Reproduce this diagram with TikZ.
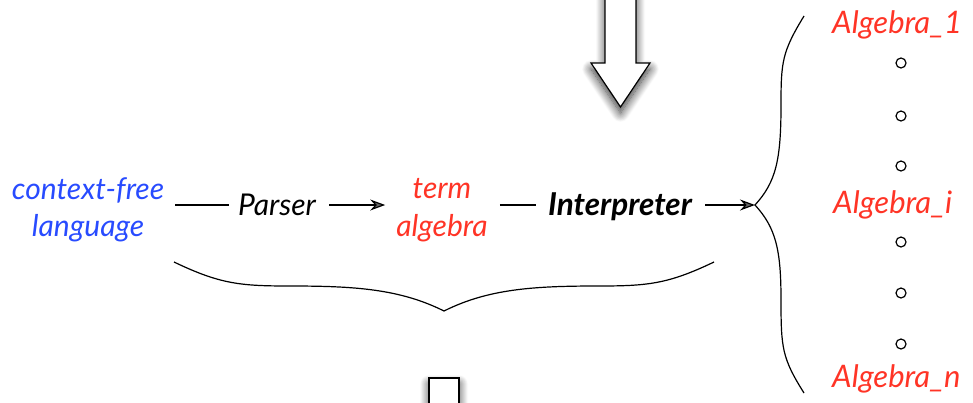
\documentclass[tikz,border=0pt]{standalone}
\usepackage{fontspec}
\setmainfont{Lato}
\usetikzlibrary{arrows.meta,shadows.blur}
\definecolor{cfblue}{RGB}{40,75,255}
\definecolor{algred}{RGB}{255,52,38}
\begin{document}
\begin{tikzpicture}[x=1pt,y=-1pt,
  txt/.style={inner sep=0pt, font=\fontsize{30}{37.5}\selectfont\itshape},
  lbl/.style={txt, text height=20pt, text depth=0pt, anchor=base},
  two/.style={txt, align=center},
  alg/.style={lbl, text=algred, anchor=base west, font=\fontsize{31}{37.5}\selectfont\itshape},
  conn/.style={line width=1.2pt},
  arr/.style={conn, -{Stealth[length=15pt,width=11pt,inset=5pt]}},
  dot/.style={circle, draw, line width=1.2pt, minimum size=10pt, inner sep=0pt},
  brace/.style={line width=1.2pt},
  bigarrow/.style={draw, fill=white, line width=1.2pt, line join=miter,
     blur shadow={shadow xshift=0pt, shadow yshift=-6pt, shadow blur radius=9pt, shadow blur steps=14, shadow opacity=80}}
]
\useasboundingbox (0,0) rectangle (973,402);

% big arrows
\path[bigarrow] (605,-20) -- (605,63) -- (591,63) -- (620.5,107) -- (650,63) -- (636,63) -- (636,-20) -- cycle;
\path[bigarrow] (429,440) -- (429,378) -- (459,378) -- (459,440) -- cycle;

% main row
\node[two, text=cfblue] (cfl) at (88,210) {context-free\\language};
\node[lbl] (par) at (277,215) {Parser};
\node[two, text=algred] (term) at (442,210) {term\\algebra};
\node[lbl, font=\fontsize{31.5}{37.5}\selectfont\bfseries\itshape] (int) at (620,215) {Interpreter};
\coordinate (tip) at (755,205);

\draw[conn, shorten <=11pt, shorten >=9pt] (cfl.east |- par.west) -- (par.west);
\draw[arr, shorten <=13pt, shorten >=11pt] (par.east) -- (par.east -| term.west);
\draw[conn, shorten <=12pt, shorten >=12pt] (term.east |- int.west) -- (int.west);
\draw[arr, shorten <=13pt] (int.east) -- (tip);

% bottom brace
\coordinate (btip) at (444,311);
\draw[brace] (174,262) .. controls (220,284) and (240,286) .. (290,286)
  .. controls (355,286) and (400,289) .. (btip)
  .. controls (488,289) and (533,286) .. (598,286)
  .. controls (648,286) and (668,284) .. (714,262);

% right brace
\draw[brace] (804,16) .. controls (782,52) and (781,62) .. (781,105)
  .. controls (781,160) and (776,182) .. (tip)
  .. controls (776,228) and (781,250) .. (781,300)
  .. controls (781,348) and (782,358) .. (804,393);

% algebras
\node[alg] (a1) at (832,33) {Algebra\_1};
\node[alg] (ai) at (833,213) {Algebra\_i};
\node[alg] (an) at (832,387) {Algebra\_n};
\node[dot] (d1) at (901,63) {};
\node[dot] (d2) at (901,116) {};
\node[dot] (d3) at (901,166) {};
\node[dot] (d4) at (901,242) {};
\node[dot] (d5) at (901,293) {};
\node[dot] (d6) at (901,344) {};
\end{tikzpicture}
\end{document}
